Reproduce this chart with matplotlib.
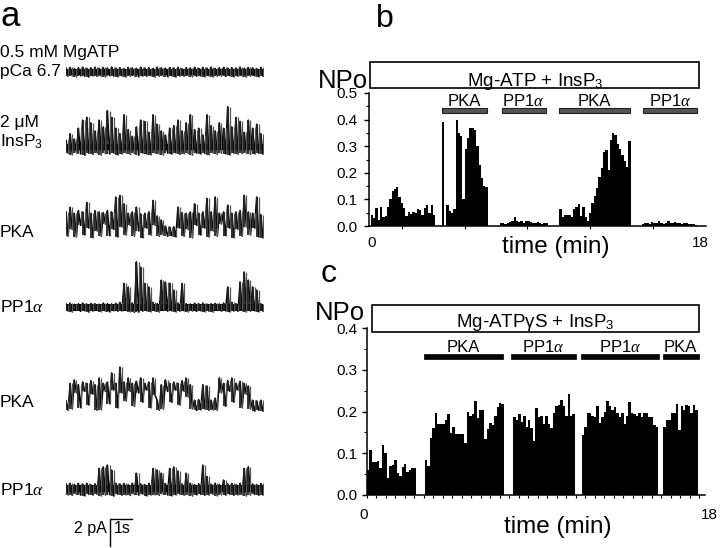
import numpy as np
import matplotlib
matplotlib.use('Agg')
import matplotlib.pyplot as plt
from matplotlib.patches import Rectangle

plt.rcParams['font.family'] = ['Liberation Sans', 'DejaVu Sans']
plt.rcParams['mathtext.fontset'] = 'custom'
plt.rcParams['mathtext.rm'] = 'Liberation Sans'
plt.rcParams['mathtext.it'] = 'Liberation Serif:italic'

# ---------------- panel a: single channel traces (pA, ~9 s each) ----------------
trace_labels = [['0.5 mM MgATP', 'pCa 6.7'], ['2 \u03bcM', 'InsP$_3$'], ['PKA'],
                ['PP1$\\alpha$'], ['PKA'], ['PP1$\\alpha$']]

hi1 = [0.30, 0.35, 0.26, 0.33, 0.37, 0.28, 0.32, 0.36, 0.27, 0.34, 0.30, 0.38, 0.29, 0.33, 0.26, 0.35,
       0.31, 0.28, 0.36, 0.30, 0.33, 0.27, 0.37, 0.32, 0.29, 0.34, 0.30, 0.36, 0.26, 0.33, 0.31, 0.35,
       0.28, 0.34, 0.30, 0.37, 0.27, 0.32, 0.35, 0.29, 0.33, 0.30, 0.38, 0.28, 0.34, 0.31, 0.26, 0.35]
lo1 = [-0.30, -0.26, -0.34, -0.28, -0.31, -0.36, -0.27, -0.32, -0.29, -0.35, -0.26, -0.30, -0.33, -0.28, -0.36, -0.30,
       -0.27, -0.34, -0.29, -0.31, -0.26, -0.35, -0.30, -0.28, -0.33, -0.27, -0.36, -0.29, -0.31, -0.26, -0.34, -0.30,
       -0.28, -0.33, -0.27, -0.35, -0.30, -0.29, -0.32, -0.26, -0.34, -0.31, -0.28, -0.36, -0.30, -0.27, -0.33, -0.29]
hi2 = [0.5, 1.0, 0.6, 1.4, 2.0, 2.2, 1.8, 1.2, 2.0, 1.5, 2.7, 2.2, 1.4, 1.0, 2.4, 1.3,
       0.8, 1.5, 2.0, 1.9, 1.1, 2.4, 1.7, 1.2, 0.9, 1.4, 1.6, 2.0, 1.2, 1.8, 2.4, 1.3,
       1.4, 0.9, 2.4, 1.6, 1.2, 1.8, 1.4, 3.0, 1.5, 2.2, 1.9, 1.1, 2.0, 1.4, 1.7, 1.0]
lo2 = [-0.45, -0.55, -0.40, -0.50, -0.60, -0.45, -0.52, -0.42, -0.58, -0.47, -0.50, -0.44, -0.56, -0.48, -0.42, -0.53,
       -0.46, -0.60, -0.44, -0.50, -0.55, -0.43, -0.49, -0.57, -0.45, -0.51, -0.42, -0.54, -0.48, -0.46, -0.58, -0.44,
       -0.50, -0.47, -0.55, -0.43, -0.52, -0.45, -0.49, -0.56, -0.44, -0.51, -0.47, -0.42, -0.53, -0.48, -0.45, -0.50]
hi3 = [1.5, 1.85, 1.4, 1.6, 1.5, 2.2, 1.4, 1.6, 1.5, 1.45, 1.6, 1.5, 2.6, 2.72, 2.1, 1.4,
       1.5, 1.85, 1.36, 1.4, 1.5, 2.35, 1.2, 0.9, 0.45, 0.38, 0.4, 1.85, 1.45, 1.4, 1.5, 2.1,
       1.4, 1.5, 2.5, 1.5, 2.6, 1.4, 1.5, 2.0, 1.4, 1.5, 1.6, 2.72, 1.5, 1.4, 2.6, 1.3]
lo3 = [-0.3, 0.2, -0.35, 0.5, -0.2, 0.3, -0.4, 0.1, -0.3, 0.6, -0.25, 0.2, -0.35, 0.4, -0.2, 0.5,
       -0.3, 0.1, -0.4, 0.3, -0.2, 0.5, -0.3, -0.2, -0.3, -0.25, -0.35, 0.3, -0.3, 0.2, -0.4, 0.5,
       -0.2, 0.3, -0.35, 0.1, -0.3, 0.6, -0.25, 0.3, -0.4, 0.2, -0.3, 0.4, -0.2, 0.3, -0.35, -0.4]
hi4 = [0.30, 0.35, 0.25, 0.30, 0.35, 0.28, 0.32, 0.30, 0.26, 0.35, 0.30, 0.28, 0.33, 0.40, 1.80, 1.54,
       0.35, 3.40, 3.00, 1.80, 1.54, 0.40, 0.30, 2.04, 1.90, 1.80, 1.30, 0.35, 1.80, 0.30, 0.28, 0.33,
       0.30, 0.35, 0.27, 0.30, 0.32, 0.28, 0.35, 1.54, 0.40, 0.30, 1.91, 2.65, 2.04, 1.54, 1.30, 0.30]
lo4 = [-0.24, -0.30, -0.20, -0.27, -0.22, -0.32, -0.25, -0.19, -0.28, -0.23, -0.30, -0.21, -0.26, -0.24, -0.20, -0.29,
       -0.35, -0.32, -0.25, -0.22, -0.28, -0.24, -0.31, -0.20, -0.26, -0.23, -0.29, -0.25, -0.21, -0.30, -0.24, -0.27,
       -0.22, -0.28, -0.25, -0.31, -0.20, -0.26, -0.23, -0.29, -0.24, -0.27, -0.21, -0.30, -0.25, -0.22, -0.28, -0.24]
hi5 = [0.3, 1.6, 1.85, 1.5, 1.7, 1.6, 1.8, 1.5, 2.0, 1.6, 1.7, 2.37, 1.6, 2.8, 1.7, 2.0,
       1.6, 1.75, 2.0, 1.6, 1.7, 2.0, 0.35, 1.5, 1.85, 1.6, 1.7, 1.6, 1.8, 2.0, 1.5, 0.35,
       0.4, 1.5, 1.4, 0.35, 0.5, 2.0, 1.6, 1.8, 2.0, 1.6, 1.75, 1.6, 1.4, 0.35, 0.3, 0.35]
lo5 = [-0.4, -0.3, 0.9, -0.2, 1.0, 0.0, 0.8, -0.4, -0.35, 1.0, 0.1, 1.1, -0.2, 0.9, 0.3, 1.0,
       -0.1, 0.9, 0.2, 1.1, -0.2, 0.7, -0.4, -0.3, 1.0, 0.2, 1.1, 0.0, 1.0, 0.6, -0.3, -0.4,
       -0.35, -0.3, -0.4, -0.35, -0.4, 0.9, -0.1, 1.0, 0.2, 1.1, -0.2, 0.8, -0.3, -0.45, -0.4, -0.45]
hi6 = [0.35, 0.40, 0.30, 0.38, 0.33, 0.40, 0.30, 0.36, 1.49, 1.61, 1.74, 1.37, 0.40, 0.35, 0.38, 0.30,
       0.40, 1.14, 0.35, 0.30, 0.40, 1.49, 1.37, 1.14, 0.38, 1.49, 1.61, 1.30, 0.35, 1.14, 0.40, 0.30,
       0.36, 1.74, 0.90, 0.33, 0.40, 0.30, 0.63, 0.35, 0.38, 0.30, 0.40, 1.49, 1.61, 0.35, 0.30, 0.38]
lo6 = [-0.45, -0.50, -0.40, -0.48, -0.53, -0.43, -0.47, -0.41, -0.52, -0.46, -0.44, -0.55, -0.42, -0.49, -0.45, -0.51,
       -0.43, -0.48, -0.40, -0.53, -0.46, -0.44, -0.50, -0.42, -0.47, -0.52, -0.45, -0.41, -0.49, -0.44, -0.54, -0.46,
       -0.43, -0.50, -0.47, -0.41, -0.52, -0.45, -0.48, -0.42, -0.50, -0.46, -0.44, -0.53, -0.47, -0.43, -0.49, -0.45]
traces_hi = [hi1, hi2, hi3, hi4, hi5, hi6]
traces_lo = [lo1, lo2, lo3, lo4, lo5, lo6]
mostly_open = [False, False, True, False, True, False]

# ---------------- panel b: NPo, Mg-ATP + InsP3 ----------------
BIN_B = 0.125
b_starts = [0.1, 3.95, 7.1, 10.33, 14.82]
b_segments = [
    [0.041, 0.03, 0.066, 0.023, 0.07, 0.035, 0.038, 0.073, 0.10, 0.13, 0.138, 0.145, 0.11, 0.085,
     0.066, 0.038, 0.054, 0.045, 0.054, 0.05, 0.063, 0.06, 0.041, 0.066, 0.079, 0.048, 0.079, 0.041],
    [0.39, 0.0, 0.08, 0.055, 0.05, 0.065, 0.40, 0.35, 0.34, 0.10, 0.29, 0.33, 0.37, 0.37, 0.36,
     0.30, 0.23, 0.18, 0.15, 0.145],
    [0.012, 0.01, 0.008, 0.012, 0.015, 0.02, 0.033, 0.018, 0.015, 0.02, 0.012, 0.018, 0.02, 0.015,
     0.01, 0.012, 0.016, 0.01, 0.008, 0.01, 0.012],
    [0.063, 0.035, 0.041, 0.04, 0.041, 0.035, 0.063, 0.073, 0.083, 0.038, 0.07, 0.033, 0.02, 0.048,
     0.085, 0.113, 0.142, 0.185, 0.217, 0.28, 0.286, 0.21, 0.323, 0.348, 0.342, 0.31, 0.29, 0.267,
     0.245, 0.223, 0.32],
    [0.008, 0.01, 0.012, 0.008, 0.015, 0.01, 0.012, 0.018, 0.01, 0.008, 0.012, 0.02, 0.01, 0.012,
     0.015, 0.01, 0.012, 0.008, 0.01, 0.012, 0.008, 0.006, 0.008, 0.005],
]
b_treat_names = ['PKA', 'PP1$\\alpha$', 'PKA', 'PP1$\\alpha$']
b_treat_start = [3.96, 7.2, 10.3, 14.9]
b_treat_end = [6.4, 9.6, 14.2, 17.8]

# ---------------- panel c: NPo, Mg-ATPyS + InsP3 ----------------
BIN_C = 0.13
c_starts = [0.0, 3.05, 7.7, 11.3, 15.6]
c_segments = [
    [0.06, 0.108, 0.078, 0.08, 0.082, 0.064, 0.12, 0.10, 0.04, 0.07, 0.071, 0.085, 0.052, 0.046,
     0.066, 0.074, 0.054, 0.06, 0.064, 0.064],
    [0.085, 0.07, 0.136, 0.16, 0.197, 0.17, 0.17, 0.17, 0.18, 0.193, 0.148, 0.164, 0.145, 0.145,
     0.145, 0.145, 0.124, 0.2, 0.19, 0.194, 0.226, 0.184, 0.204, 0.204, 0.133, 0.157, 0.172, 0.168,
     0.19, 0.21, 0.22, 0.218],
    [0.186, 0.18, 0.194, 0.176, 0.19, 0.164, 0.18, 0.16, 0.13, 0.208, 0.188, 0.19, 0.17, 0.19,
     0.17, 0.16, 0.196, 0.212, 0.216, 0.228, 0.213, 0.19, 0.242, 0.19, 0.194],
    [0.144, 0.164, 0.196, 0.196, 0.19, 0.186, 0.212, 0.173, 0.188, 0.2, 0.224, 0.212, 0.204, 0.21,
     0.197, 0.188, 0.196, 0.17, 0.19, 0.222, 0.197, 0.194, 0.19, 0.197, 0.186, 0.196, 0.196, 0.186,
     0.188, 0.168, 0.162],
    [0.162, 0.18, 0.18, 0.196, 0.197, 0.218, 0.156, 0.213, 0.204, 0.216, 0.213, 0.196, 0.216, 0.204],
]
c_treat_names = ['PKA', 'PP1$\\alpha$', 'PP1$\\alpha$', 'PKA']
c_treat_start = [3.0, 7.58, 11.26, 15.58]
c_treat_end = [7.16, 11.0, 15.37, 17.47]

W, H = 720, 548


def fx(px):
    return px / W


def fy(py):
    return 1 - py / H


fig = plt.figure(figsize=(7.2, 5.48), dpi=100)

# ---- panel a ----
axa = fig.add_axes([fx(66), 0, fx(198), 1])
axa.set_xlim(0, 9.0)
axa.set_ylim(0, 40.6)
axa.axis('off')
offsets = [35.26, 29.7, 23.4, 17.8, 10.6, 4.4]
for hi, lo, off, op in zip(traces_hi, traces_lo, offsets, mostly_open):
    hi = np.array(hi) + off
    lo = np.array(lo) + off
    n = len(hi)
    t = np.linspace(0, 8.95, 2 * n)
    y = np.empty(2 * n)
    y[0::2] = hi
    y[1::2] = lo
    axa.plot(t, y, color='black', lw=1.1)
    axa.vlines(t[0::2], lo, hi, color='#222222', lw=1.3)
    axa.vlines(t[1::2], lo, hi, color='#555555', lw=0.9)
    if not op:
        axa.fill_between([0, 8.95], off - 0.25, off + 0.25, color='black', lw=0)

label_lines = [[56.5, 76], [126.5, 147], [237], [311.5], [407], [495]]
for labs, ys in zip(trace_labels, label_lines):
    for lab, yy in zip(labs, ys):
        fig.text(fx(0), fy(yy), lab, fontsize=12.5, va='baseline', ha='left')

# scale bar: 2 pA, 1 s
axa.plot([2.0, 2.0, 3.0], [0.15, 2.15, 2.15], color='black', lw=1.0, clip_on=False)
fig.text(fx(107), fy(533), '2 pA', fontsize=11.5, va='baseline', ha='right')
fig.text(fx(114), fy(533), '1s', fontsize=11.5, va='baseline', ha='left')

fig.text(fx(0), fy(26), 'a', fontsize=25, va='baseline', ha='left')
fig.text(fx(376), fy(27), 'b', fontsize=23, va='baseline', ha='left')
fig.text(fx(321), fy(282), 'c', fontsize=23, va='baseline', ha='left')


def style_axes(ax, ymax, pad):
    for s in ['top', 'right']:
        ax.spines[s].set_visible(False)
    for s in ['left', 'bottom']:
        ax.spines[s].set_linewidth(1.1)
    ax.set_yticks(np.arange(0, ymax + 0.001, 0.1))
    ax.set_yticklabels(['%.1f' % v for v in np.arange(0, ymax + 0.001, 0.1)])
    ax.set_yticks(np.arange(0, ymax + 0.001, 0.05), minor=True)
    ax.tick_params(axis='y', which='major', direction='out', length=3.5, width=1, labelsize=11, pad=pad)
    ax.tick_params(axis='y', which='minor', direction='out', length=2, width=0.8)
    ax.tick_params(axis='x', which='major', direction='out', length=2.5, width=0.8, labelbottom=False)


# ---- panel b ----
axb = fig.add_axes([fx(369), fy(226), fx(337), 133 / H])
axb.set_xlim(0, 18.3)
axb.set_ylim(0, 0.5)
for st, vals in zip(b_starts, b_segments):
    xs = st + np.arange(len(vals)) * BIN_B
    axb.bar(xs, vals, width=BIN_B, align='edge', color='black', linewidth=0)
style_axes(axb, 0.5, 5)
axb.set_xticks([1.8, 5.2, 8.6, 12.0, 15.4])
for s, e, name in zip(b_treat_start, b_treat_end, b_treat_names):
    axb.add_patch(Rectangle((s, 0.426), e - s, 0.017, facecolor='#555555', edgecolor='#222222',
                            lw=0.8, clip_on=False))
    axb.text((s + e) / 2, 0.451, name, ha='center', va='baseline', fontsize=12)
xt = axb.get_xaxis_transform()
axb.text(0.16, -0.075, '0', transform=xt, ha='center', va='top', fontsize=11)
axb.text(18.0, -0.075, '18', transform=xt, ha='center', va='top', fontsize=11)
fig.text(fx(556), fy(247), 'time (min)', ha='center', va='center', fontsize=17.5)
fig.text(fx(368), fy(87.5), 'NPo', ha='right', va='baseline', fontsize=18.5)
fig.add_artist(Rectangle((fx(370), fy(88)), fx(329), 26 / H, transform=fig.transFigure,
                         fill=False, edgecolor='black', lw=1.2))
fig.text(fx(535), fy(85.5), 'Mg-ATP + InsP$_3$', ha='center', va='baseline', fontsize=13.5)

# ---- panel c ----
axc = fig.add_axes([fx(367), fy(495), fx(338), 167 / H])
axc.set_xlim(0, 17.8)
axc.set_ylim(0, 0.4)
for st, vals in zip(c_starts, c_segments):
    xs = st + np.arange(len(vals)) * BIN_C
    axc.bar(xs, vals, width=BIN_C, align='edge', color='black', linewidth=0)
style_axes(axc, 0.4, 3.5)
axc.set_xticks(np.arange(0, 17.6, 0.5))
for s, e, name in zip(c_treat_start, c_treat_end, c_treat_names):
    axc.add_patch(Rectangle((s, 0.325), e - s, 0.0127, facecolor='black', edgecolor='black',
                            lw=0.5, clip_on=False))
    axc.text((s + e) / 2, 0.343, name, ha='center', va='baseline', fontsize=12)
xt = axc.get_xaxis_transform()
axc.text(-0.16, -0.078, '0', transform=xt, ha='center', va='top', fontsize=11)
axc.text(18.05, -0.078, '18', transform=xt, ha='center', va='top', fontsize=11)
fig.text(fx(558), fy(527), 'time (min)', ha='center', va='center', fontsize=17.5)
fig.text(fx(365), fy(320.5), 'NPo', ha='right', va='baseline', fontsize=18.5)
fig.add_artist(Rectangle((fx(372), fy(332)), fx(327), 27 / H, transform=fig.transFigure,
                         fill=False, edgecolor='black', lw=1.2))
fig.text(fx(535), fy(327), 'Mg-ATP\u03b3S + InsP$_3$', ha='center', va='baseline', fontsize=13.5)

fig.savefig('out.png', dpi=100)
